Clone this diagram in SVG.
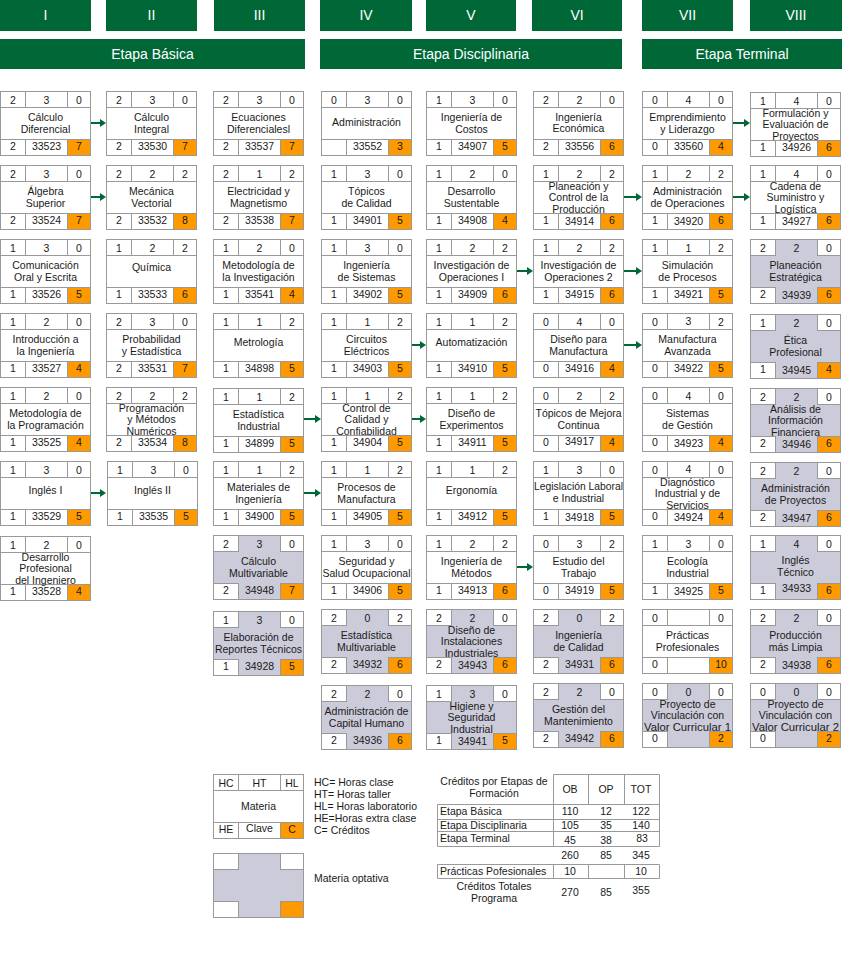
<svg xmlns="http://www.w3.org/2000/svg" xmlns:xlink="http://www.w3.org/1999/xlink" width="842" height="968" viewBox="0 0 842 968">
<style>
text{font-family:"Liberation Sans",Arial,sans-serif;font-size:10.5px;fill:#1a1a1a;text-anchor:middle}
.hd rect{fill:#006837}
.hd text{fill:#fff;font-size:14px}
.st{fill:none;stroke:#999;stroke-width:1}
.l{text-anchor:start}
.ar line{stroke:#006837;stroke-width:2}
</style>
<defs>
<marker id="ah" markerWidth="6" markerHeight="8" refX="0" refY="4" orient="auto" markerUnits="userSpaceOnUse"><path d="M0 0L6 4L0 8Z" fill="#006837"/></marker>
<g id="card"><rect x="0.5" y="0.5" width="90" height="64" fill="#fff" stroke="#999"/><path d="M0.5 16.5H90.5M0.5 48.5H90.5M25.5 0.5V16.5M67.5 0.5V16.5M25.5 48.5V64.5M67.5 48.5V64.5" class="st"/><rect x="67.5" y="48.5" width="23" height="16" fill="#f90" stroke="#999"/></g>
<g id="opt"><rect x="0.5" y="0.5" width="90" height="64" fill="#cccbd9" stroke="#999"/><rect x="0.5" y="0.5" width="25" height="16" fill="#fff" stroke="#999"/><rect x="67.5" y="0.5" width="23" height="16" fill="#fff" stroke="#999"/><rect x="0.5" y="48.5" width="25" height="16" fill="#fff" stroke="#999"/><rect x="67.5" y="48.5" width="23" height="16" fill="#f90" stroke="#999"/></g>
</defs>

<g id="header" class="hd">
<rect x="0" y="0" width="91" height="31"/><text x="45.5" y="20">I</text>
<rect x="106" y="0" width="91" height="31"/><text x="151.5" y="20">II</text>
<rect x="214" y="0" width="91" height="31"/><text x="259.5" y="20">III</text>
<rect x="320" y="0" width="92" height="31"/><text x="366" y="20">IV</text>
<rect x="426" y="0" width="90" height="31"/><text x="471" y="20">V</text>
<rect x="532" y="0" width="90" height="31"/><text x="577" y="20">VI</text>
<rect x="642" y="0" width="91" height="31"/><text x="687.5" y="20">VII</text>
<rect x="750" y="0" width="92" height="31"/><text x="796" y="20">VIII</text>
<rect x="0" y="39" width="305" height="30"/><text x="152.5" y="59">Etapa Básica</text>
<rect x="320" y="39" width="302" height="30"/><text x="471" y="59">Etapa Disciplinaria</text>
<rect x="642" y="39" width="200" height="30"/><text x="742" y="59">Etapa Terminal</text>
</g>

<g id="connectors" class="ar">
<line x1="91" y1="123" x2="100" y2="123" marker-end="url(#ah)"/>
<line x1="733" y1="123" x2="744" y2="123" marker-end="url(#ah)"/>
<line x1="91" y1="197" x2="100" y2="197" marker-end="url(#ah)"/>
<line x1="624" y1="197" x2="636" y2="197" marker-end="url(#ah)"/>
<line x1="733" y1="197" x2="744" y2="197" marker-end="url(#ah)"/>
<line x1="517" y1="271" x2="527" y2="271" marker-end="url(#ah)"/>
<line x1="624" y1="271" x2="636" y2="271" marker-end="url(#ah)"/>
<line x1="412" y1="345" x2="420" y2="345" marker-end="url(#ah)"/>
<line x1="624" y1="345" x2="636" y2="345" marker-end="url(#ah)"/>
<line x1="304" y1="419" x2="315" y2="419" marker-end="url(#ah)"/>
<line x1="412" y1="419" x2="420" y2="419" marker-end="url(#ah)"/>
<line x1="91" y1="493" x2="100" y2="493" marker-end="url(#ah)"/>
<line x1="304" y1="493" x2="315" y2="493" marker-end="url(#ah)"/>
<line x1="517" y1="567" x2="527" y2="567" marker-end="url(#ah)"/>
</g>

<!-- Column I -->
<g id="n33523" transform="translate(0,91)"><use xlink:href="#card"/><text x="13" y="12.5">2</text><text x="46.5" y="12.5">3</text><text x="79" y="12.5">0</text><text x="45.5" y="29.5">Cálculo</text><text x="45.5" y="41.5">Diferencial</text><text x="13" y="59">2</text><text x="46.5" y="59">33523</text><text x="79" y="59">7</text></g>
<g id="n33524" transform="translate(0,165)"><use xlink:href="#card"/><text x="13" y="12.5">2</text><text x="46.5" y="12.5">3</text><text x="79" y="12.5">0</text><text x="45.5" y="29.5">Álgebra</text><text x="45.5" y="41.5">Superior</text><text x="13" y="59">2</text><text x="46.5" y="59">33524</text><text x="79" y="59">7</text></g>
<g id="n33526" transform="translate(0,239)"><use xlink:href="#card"/><text x="13" y="12.5">1</text><text x="46.5" y="12.5">3</text><text x="79" y="12.5">0</text><text x="45.5" y="29.5">Comunicación</text><text x="45.5" y="41.5">Oral y Escrita</text><text x="13" y="59">1</text><text x="46.5" y="59">33526</text><text x="79" y="59">5</text></g>
<g id="n33527" transform="translate(0,313)"><use xlink:href="#card"/><text x="13" y="12.5">1</text><text x="46.5" y="12.5">2</text><text x="79" y="12.5">0</text><text x="45.5" y="29.5">Introducción a</text><text x="45.5" y="41.5">la Ingeniería</text><text x="13" y="59">1</text><text x="46.5" y="59">33527</text><text x="79" y="59">4</text></g>
<g id="n33525" transform="translate(0,387)"><use xlink:href="#card"/><text x="13" y="12.5">1</text><text x="46.5" y="12.5">2</text><text x="79" y="12.5">0</text><text x="45.5" y="29.5">Metodología de</text><text x="45.5" y="41.5">la Programación</text><text x="13" y="59">1</text><text x="46.5" y="59">33525</text><text x="79" y="59">4</text></g>
<g id="n33529" transform="translate(0,461)"><use xlink:href="#card"/><text x="13" y="12.5">1</text><text x="46.5" y="12.5">3</text><text x="79" y="12.5">0</text><text x="45.5" y="33">Inglés I</text><text x="13" y="59">1</text><text x="46.5" y="59">33529</text><text x="79" y="59">5</text></g>
<g id="n33528" transform="translate(0,536)"><use xlink:href="#card"/><text x="13" y="12.5">1</text><text x="46.5" y="12.5">2</text><text x="79" y="12.5">0</text><text x="45.5" y="24.5">Desarrollo</text><text x="45.5" y="36">Profesional</text><text x="45.5" y="47.5">del Ingeniero</text><text x="13" y="59">1</text><text x="46.5" y="59">33528</text><text x="79" y="59">4</text></g>

<!-- Column II -->
<g id="n33530" transform="translate(106,91)"><use xlink:href="#card"/><text x="13" y="12.5">2</text><text x="46.5" y="12.5">3</text><text x="79" y="12.5">0</text><text x="45.5" y="29.5">Cálculo</text><text x="45.5" y="41.5">Integral</text><text x="13" y="59">2</text><text x="46.5" y="59">33530</text><text x="79" y="59">7</text></g>
<g id="n33532" transform="translate(106,165)"><use xlink:href="#card"/><text x="13" y="12.5">2</text><text x="46.5" y="12.5">2</text><text x="79" y="12.5">2</text><text x="45.5" y="29.5">Mecánica</text><text x="45.5" y="41.5">Vectorial</text><text x="13" y="59">2</text><text x="46.5" y="59">33532</text><text x="79" y="59">8</text></g>
<g id="n33533" transform="translate(106,239)"><use xlink:href="#card"/><text x="13" y="12.5">1</text><text x="46.5" y="12.5">2</text><text x="79" y="12.5">2</text><text x="45.5" y="32">Química</text><text x="13" y="59">1</text><text x="46.5" y="59">33533</text><text x="79" y="59">6</text></g>
<g id="n33531" transform="translate(106,313)"><use xlink:href="#card"/><text x="13" y="12.5">2</text><text x="46.5" y="12.5">3</text><text x="79" y="12.5">0</text><text x="45.5" y="29.5">Probabilidad</text><text x="45.5" y="41.5">y Estadística</text><text x="13" y="59">2</text><text x="46.5" y="59">33531</text><text x="79" y="59">7</text></g>
<g id="n33534" transform="translate(106,387)"><use xlink:href="#card"/><text x="13" y="12.5">2</text><text x="46.5" y="12.5">2</text><text x="79" y="12.5">2</text><text x="45.5" y="24.5">Programación</text><text x="45.5" y="36">y Métodos</text><text x="45.5" y="47.5">Numéricos</text><text x="13" y="59">2</text><text x="46.5" y="59">33534</text><text x="79" y="59">8</text></g>
<g id="n33535" transform="translate(107,461)"><use xlink:href="#card"/><text x="13" y="12.5">1</text><text x="46.5" y="12.5">3</text><text x="79" y="12.5">0</text><text x="45.5" y="33">Inglés II</text><text x="13" y="59">1</text><text x="46.5" y="59">33535</text><text x="79" y="59">5</text></g>

<!-- Column III -->
<g id="n33537" transform="translate(213,91)"><use xlink:href="#card"/><text x="13" y="12.5">2</text><text x="46.5" y="12.5">3</text><text x="79" y="12.5">0</text><text x="45.5" y="29.5">Ecuaciones</text><text x="45.5" y="41.5">Diferencialesl</text><text x="13" y="59">2</text><text x="46.5" y="59">33537</text><text x="79" y="59">7</text></g>
<g id="n33538" transform="translate(213,165)"><use xlink:href="#card"/><text x="13" y="12.5">2</text><text x="46.5" y="12.5">1</text><text x="79" y="12.5">2</text><text x="45.5" y="30">Electricidad y</text><text x="45.5" y="42">Magnetismo</text><text x="13" y="59">2</text><text x="46.5" y="59">33538</text><text x="79" y="59">7</text></g>
<g id="n33541" transform="translate(213,239)"><use xlink:href="#card"/><text x="13" y="12.5">1</text><text x="46.5" y="12.5">2</text><text x="79" y="12.5">0</text><text x="45.5" y="30">Metodología de</text><text x="45.5" y="42">la Investigación</text><text x="13" y="59">1</text><text x="46.5" y="59">33541</text><text x="79" y="59">4</text></g>
<g id="n34898" transform="translate(213,313)"><use xlink:href="#card"/><text x="13" y="12.5">1</text><text x="46.5" y="12.5">1</text><text x="79" y="12.5">2</text><text x="45.5" y="33">Metrología</text><text x="13" y="59">1</text><text x="46.5" y="59">34898</text><text x="79" y="59">5</text></g>
<g id="n34899" transform="translate(213,388)"><use xlink:href="#card"/><text x="13" y="12.5">1</text><text x="46.5" y="12.5">1</text><text x="79" y="12.5">2</text><text x="45.5" y="29.5">Estadística</text><text x="45.5" y="41.5">Industrial</text><text x="13" y="59">1</text><text x="46.5" y="59">34899</text><text x="79" y="59">5</text></g>
<g id="n34900" transform="translate(213,461)"><use xlink:href="#card"/><text x="13" y="12.5">1</text><text x="46.5" y="12.5">1</text><text x="79" y="12.5">2</text><text x="45.5" y="29.5">Materiales de</text><text x="45.5" y="41.5">Ingeniería</text><text x="13" y="59">1</text><text x="46.5" y="59">34900</text><text x="79" y="59">5</text></g>
<g id="n34948" transform="translate(213,535)"><use xlink:href="#opt"/><text x="13" y="12.5">2</text><text x="46.5" y="12.5">3</text><text x="79" y="12.5">0</text><text x="45.5" y="29.5">Cálculo</text><text x="45.5" y="41.5">Multivariable</text><text x="13" y="59">2</text><text x="46.5" y="59">34948</text><text x="79" y="59">7</text></g>
<g id="n34928" transform="translate(213,611)"><use xlink:href="#opt"/><text x="13" y="12.5">1</text><text x="46.5" y="12.5">3</text><text x="79" y="12.5">0</text><text x="45.5" y="29.5">Elaboración de</text><text x="45.5" y="41.5" textLength="87" lengthAdjust="spacingAndGlyphs">Reportes Técnicos</text><text x="13" y="59">1</text><text x="46.5" y="59">34928</text><text x="79" y="59">5</text></g>

<!-- Column IV -->
<g id="n33552" transform="translate(321,91)"><use xlink:href="#card"/><text x="46.5" y="12.5">3</text><text x="13" y="12.5">0</text><text x="79" y="12.5">0</text><text x="45.5" y="35">Administración</text><text x="46.5" y="59">33552</text><text x="79" y="59">3</text></g>
<g id="n34901" transform="translate(321,165)"><use xlink:href="#card"/><text x="13" y="12.5">1</text><text x="46.5" y="12.5">3</text><text x="79" y="12.5">0</text><text x="45.5" y="29.5">Tópicos</text><text x="45.5" y="41.5">de Calidad</text><text x="13" y="59">1</text><text x="46.5" y="59">34901</text><text x="79" y="59">5</text></g>
<g id="n34902" transform="translate(321,239)"><use xlink:href="#card"/><text x="13" y="12.5">1</text><text x="46.5" y="12.5">3</text><text x="79" y="12.5">0</text><text x="45.5" y="29.5">Ingeniería</text><text x="45.5" y="41.5">de Sistemas</text><text x="13" y="59">1</text><text x="46.5" y="59">34902</text><text x="79" y="59">5</text></g>
<g id="n34903" transform="translate(321,313)"><use xlink:href="#card"/><text x="13" y="12.5">1</text><text x="46.5" y="12.5">1</text><text x="79" y="12.5">2</text><text x="45.5" y="29.5">Circuitos</text><text x="45.5" y="41.5">Eléctricos</text><text x="13" y="59">1</text><text x="46.5" y="59">34903</text><text x="79" y="59">5</text></g>
<g id="n34904" transform="translate(321,387)"><use xlink:href="#card"/><text x="13" y="12.5">1</text><text x="46.5" y="12.5">1</text><text x="79" y="12.5">2</text><text x="45.5" y="24.5">Control de</text><text x="45.5" y="36">Calidad y</text><text x="45.5" y="47.5">Confiabilidad</text><text x="13" y="59">1</text><text x="46.5" y="59">34904</text><text x="79" y="59">5</text></g>
<g id="n34905" transform="translate(321,461)"><use xlink:href="#card"/><text x="13" y="12.5">1</text><text x="46.5" y="12.5">1</text><text x="79" y="12.5">2</text><text x="45.5" y="29.5">Procesos de</text><text x="45.5" y="41.5">Manufactura</text><text x="13" y="59">1</text><text x="46.5" y="59">34905</text><text x="79" y="59">5</text></g>
<g id="n34906" transform="translate(321,535)"><use xlink:href="#card"/><text x="13" y="12.5">1</text><text x="46.5" y="12.5">3</text><text x="79" y="12.5">0</text><text x="45.5" y="29.5">Seguridad y</text><text x="45.5" y="41.5" textLength="88" lengthAdjust="spacingAndGlyphs">Salud Ocupacional</text><text x="13" y="59">1</text><text x="46.5" y="59">34906</text><text x="79" y="59">5</text></g>
<g id="n34932" transform="translate(321,609)"><use xlink:href="#opt"/><text x="13" y="12.5">2</text><text x="46.5" y="12.5">0</text><text x="79" y="12.5">2</text><text x="45.5" y="29.5">Estadística</text><text x="45.5" y="41.5">Multivariable</text><text x="13" y="59">2</text><text x="46.5" y="59">34932</text><text x="79" y="59">6</text></g>
<g id="n34936" transform="translate(321,685)"><use xlink:href="#opt"/><text x="13" y="12.5">2</text><text x="46.5" y="12.5">2</text><text x="79" y="12.5">0</text><text x="45.5" y="29.5" textLength="84" lengthAdjust="spacingAndGlyphs">Administración de</text><text x="45.5" y="41.5">Capital Humano</text><text x="13" y="59">2</text><text x="46.5" y="59">34936</text><text x="79" y="59">6</text></g>

<!-- Column V -->
<g id="n34907" transform="translate(426,91)"><use xlink:href="#card"/><text x="13" y="12.5">1</text><text x="46.5" y="12.5">3</text><text x="79" y="12.5">0</text><text x="45.5" y="29.5">Ingeniería de</text><text x="45.5" y="41.5">Costos</text><text x="13" y="59">1</text><text x="46.5" y="59">34907</text><text x="79" y="59">5</text></g>
<g id="n34908" transform="translate(426,165)"><use xlink:href="#card"/><text x="13" y="12.5">1</text><text x="46.5" y="12.5">2</text><text x="79" y="12.5">0</text><text x="45.5" y="30">Desarrollo</text><text x="45.5" y="42">Sustentable</text><text x="13" y="59">1</text><text x="46.5" y="59">34908</text><text x="79" y="59">4</text></g>
<g id="n34909" transform="translate(426,239)"><use xlink:href="#card"/><text x="13" y="12.5">1</text><text x="46.5" y="12.5">2</text><text x="79" y="12.5">2</text><text x="45.5" y="29.5">Investigación de</text><text x="45.5" y="41.5">Operaciones I</text><text x="13" y="59">1</text><text x="46.5" y="59">34909</text><text x="79" y="59">6</text></g>
<g id="n34910" transform="translate(426,313)"><use xlink:href="#card"/><text x="13" y="12.5">1</text><text x="46.5" y="12.5">1</text><text x="79" y="12.5">2</text><text x="45.5" y="33">Automatización</text><text x="13" y="59">1</text><text x="46.5" y="59">34910</text><text x="79" y="59">5</text></g>
<g id="n34911" transform="translate(426,387)"><use xlink:href="#card"/><text x="13" y="12.5">1</text><text x="46.5" y="12.5">1</text><text x="79" y="12.5">2</text><text x="45.5" y="29.5">Diseño de</text><text x="45.5" y="41.5">Experimentos</text><text x="13" y="59">1</text><text x="46.5" y="59">34911</text><text x="79" y="59">5</text></g>
<g id="n34912" transform="translate(426,461)"><use xlink:href="#card"/><text x="13" y="12.5">1</text><text x="46.5" y="12.5">1</text><text x="79" y="12.5">2</text><text x="45.5" y="33">Ergonomía</text><text x="13" y="59">1</text><text x="46.5" y="59">34912</text><text x="79" y="59">5</text></g>
<g id="n34913" transform="translate(426,535)"><use xlink:href="#card"/><text x="13" y="12.5">1</text><text x="46.5" y="12.5">2</text><text x="79" y="12.5">2</text><text x="45.5" y="29.5">Ingeniería de</text><text x="45.5" y="41.5">Métodos</text><text x="13" y="59">1</text><text x="46.5" y="59">34913</text><text x="79" y="59">6</text></g>
<g id="n34943" transform="translate(426,609)"><use xlink:href="#opt"/><text x="13" y="12.5">2</text><text x="46.5" y="12.5">2</text><text x="79" y="12.5">0</text><text x="45.5" y="24.5">Diseño de</text><text x="45.5" y="36">Instalaciones</text><text x="45.5" y="47.5">Industriales</text><text x="13" y="59">2</text><text x="46.5" y="59.5">34943</text><text x="79" y="59">6</text></g>
<g id="n34941" transform="translate(426,685)"><use xlink:href="#opt"/><text x="13" y="12.5">1</text><text x="46.5" y="12.5">3</text><text x="79" y="13">0</text><text x="45.5" y="24.5">Higiene y</text><text x="45.5" y="36">Seguridad</text><text x="45.5" y="47.5">Industrial</text><text x="13" y="59">1</text><text x="46.5" y="59.5">34941</text><text x="79" y="59">5</text></g>

<!-- Column VI -->
<g id="n33556" transform="translate(533,91)"><use xlink:href="#card"/><text x="13" y="12.5">2</text><text x="46.5" y="12.5">2</text><text x="79" y="12.5">0</text><text x="45.5" y="29.5">Ingeniería</text><text x="45.5" y="41">Económica</text><text x="13" y="59">2</text><text x="46.5" y="59">33556</text><text x="79" y="59">6</text></g>
<g id="n34914" transform="translate(533,165)"><use xlink:href="#card"/><text x="13" y="12.5">1</text><text x="46.5" y="12.5">2</text><text x="79" y="12.5">2</text><text x="45.5" y="24.5">Planeación y</text><text x="45.5" y="36">Control de la</text><text x="45.5" y="47.5">Producción</text><text x="13" y="59">1</text><text x="46.5" y="60">34914</text><text x="79" y="59">6</text></g>
<g id="n34915" transform="translate(533,239)"><use xlink:href="#card"/><text x="13" y="12.5">1</text><text x="46.5" y="12.5">2</text><text x="79" y="12.5">2</text><text x="45.5" y="29.5">Investigación de</text><text x="45.5" y="41.5">Operaciones 2</text><text x="13" y="59">1</text><text x="46.5" y="59">34915</text><text x="79" y="59">6</text></g>
<g id="n34916" transform="translate(533,313)"><use xlink:href="#card"/><text x="13" y="12.5">0</text><text x="46.5" y="12.5">4</text><text x="79" y="12.5">0</text><text x="45.5" y="29.5">Diseño para</text><text x="45.5" y="41.5">Manufactura</text><text x="13" y="59">0</text><text x="46.5" y="59">34916</text><text x="79" y="59">4</text></g>
<g id="n34917" transform="translate(533,387)"><use xlink:href="#card"/><text x="13" y="12.5">0</text><text x="46.5" y="12.5">2</text><text x="79" y="12.5">2</text><text x="45.5" y="29.5" textLength="86" lengthAdjust="spacingAndGlyphs">Tópicos de Mejora</text><text x="45.5" y="41.5">Continua</text><text x="13" y="59">0</text><text x="46.5" y="58">34917</text><text x="79" y="59">4</text></g>
<g id="n34918" transform="translate(533,461)"><use xlink:href="#card"/><text x="13" y="12.5">1</text><text x="46.5" y="12.5">3</text><text x="79" y="12.5">0</text><text x="45.5" y="29" textLength="89" lengthAdjust="spacingAndGlyphs">Legislación Laboral</text><text x="45.5" y="40.5">e Industrial</text><text x="13" y="59">1</text><text x="46.5" y="60">34918</text><text x="79" y="59">5</text></g>
<g id="n34919" transform="translate(533,535)"><use xlink:href="#card"/><text x="13" y="12.5">0</text><text x="46.5" y="12.5">3</text><text x="79" y="12.5">2</text><text x="45.5" y="29.5">Estudio del</text><text x="45.5" y="41.5">Trabajo</text><text x="13" y="59">0</text><text x="46.5" y="59">34919</text><text x="79" y="59">5</text></g>
<g id="n34931" transform="translate(533,609)"><use xlink:href="#opt"/><text x="13" y="12.5">2</text><text x="46.5" y="12.5">0</text><text x="79" y="12.5">2</text><text x="45.5" y="29.5">Ingeniería</text><text x="45.5" y="41.5">de Calidad</text><text x="13" y="59">2</text><text x="46.5" y="59">34931</text><text x="79" y="59">6</text></g>
<g id="n34942" transform="translate(533,683)"><use xlink:href="#opt"/><text x="13" y="12.5">2</text><text x="46.5" y="12.5">2</text><text x="79" y="12.5">0</text><text x="45.5" y="29.5">Gestión del</text><text x="45.5" y="41.5">Mantenimiento</text><text x="13" y="59">2</text><text x="46.5" y="59">34942</text><text x="79" y="59">6</text></g>

<!-- Column VII -->
<g id="n33560" transform="translate(642,91)"><use xlink:href="#card"/><text x="13" y="12.5">0</text><text x="46.5" y="12.5">4</text><text x="79" y="12.5">0</text><text x="45.5" y="29.5">Emprendimiento</text><text x="45.5" y="41.5">y Liderazgo</text><text x="13" y="58.5">0</text><text x="46.5" y="59">33560</text><text x="79" y="59">4</text></g>
<g id="n34920" transform="translate(642,165)"><use xlink:href="#card"/><text x="13" y="12.5">1</text><text x="46.5" y="12.5">2</text><text x="79" y="12.5">2</text><text x="45.5" y="29.5">Administración</text><text x="45.5" y="41.5">de Operaciones</text><text x="13" y="59">1</text><text x="46.5" y="59.5">34920</text><text x="79" y="59">6</text></g>
<g id="n34921" transform="translate(642,239)"><use xlink:href="#card"/><text x="13" y="12.5">1</text><text x="46.5" y="12.5">1</text><text x="79" y="12.5">2</text><text x="45.5" y="30">Simulación</text><text x="45.5" y="42">de Procesos</text><text x="13" y="59">1</text><text x="46.5" y="59">34921</text><text x="79" y="59">5</text></g>
<g id="n34922" transform="translate(642,313)"><use xlink:href="#card"/><text x="13" y="12.5">0</text><text x="46.5" y="12">3</text><text x="79" y="12.5">2</text><text x="45.5" y="29.5">Manufactura</text><text x="45.5" y="41.5">Avanzada</text><text x="13" y="59">0</text><text x="46.5" y="58.5">34922</text><text x="79" y="59">5</text></g>
<g id="n34923" transform="translate(642,387)"><use xlink:href="#card"/><text x="13" y="12.5">0</text><text x="46.5" y="12.5">4</text><text x="79" y="12.5">0</text><text x="45.5" y="30">Sistemas</text><text x="45.5" y="42">de Gestión</text><text x="13" y="59">0</text><text x="46.5" y="59.5">34923</text><text x="79" y="59">4</text></g>
<g id="n34924" transform="translate(642,461)"><use xlink:href="#card"/><text x="13" y="12.5">0</text><text x="46.5" y="12">4</text><text x="79" y="12.5">0</text><text x="45.5" y="24.5">Diagnóstico</text><text x="45.5" y="36">Industrial y de</text><text x="45.5" y="47.5">Servicios</text><text x="13" y="58.5">0</text><text x="46.5" y="59.5">34924</text><text x="79" y="59">4</text></g>
<g id="n34925" transform="translate(642,535)"><use xlink:href="#card"/><text x="13" y="12.5">1</text><text x="46.5" y="12.5">3</text><text x="79" y="12.5">0</text><text x="45.5" y="30">Ecología</text><text x="45.5" y="42">Industrial</text><text x="13" y="59">1</text><text x="46.5" y="59.5">34925</text><text x="79" y="59">5</text></g>
<g id="n-practicas" transform="translate(642,609)"><use xlink:href="#card"/><text x="13" y="12.5">0</text><text x="79" y="12.5">0</text><text x="45.5" y="30">Prácticas</text><text x="45.5" y="42">Profesionales</text><text x="13" y="59">0</text><text x="79" y="59">10</text></g>
<g id="n-pvvc1" transform="translate(642,683)"><use xlink:href="#opt"/><text x="13" y="12.5">0</text><text x="46.5" y="12.5">0</text><text x="79" y="12.5">0</text><text x="45.5" y="24.5">Proyecto de</text><text x="45.5" y="36">Vinculación con</text><text x="45.5" y="47.5" textLength="87" lengthAdjust="spacingAndGlyphs">Valor Curricular 1</text><text x="13" y="59">0</text><text x="79" y="59">2</text></g>

<!-- Column VIII -->
<g id="n34926" transform="translate(750,92)"><use xlink:href="#card"/><text x="13" y="12.5">1</text><text x="46.5" y="12.5">4</text><text x="79" y="12.5">0</text><text x="45.5" y="24.5">Formulación y</text><text x="45.5" y="36">Evaluación de</text><text x="45.5" y="47.5">Proyectos</text><text x="13" y="59">1</text><text x="46.5" y="59">34926</text><text x="79" y="59">6</text></g>
<g id="n34927" transform="translate(750,165)"><use xlink:href="#card"/><text x="13" y="12.5">1</text><text x="46.5" y="12.5">4</text><text x="79" y="12.5">0</text><text x="45.5" y="24.5">Cadena de</text><text x="45.5" y="36">Suministro y</text><text x="45.5" y="47.5">Logística</text><text x="13" y="59">1</text><text x="46.5" y="59.5">34927</text><text x="79" y="59">6</text></g>
<g id="n34939" transform="translate(750,239)"><use xlink:href="#opt"/><text x="13" y="12.5">2</text><text x="46.5" y="12.5">2</text><text x="79" y="12.5">0</text><text x="45.5" y="30">Planeación</text><text x="45.5" y="42">Estratégica</text><text x="13" y="59">2</text><text x="46.5" y="59.5">34939</text><text x="79" y="59">6</text></g>
<g id="n34945" transform="translate(750,314)"><use xlink:href="#opt"/><text x="13" y="12.5">1</text><text x="46.5" y="12.5">2</text><text x="79" y="12.5">0</text><text x="45.5" y="29.5">Ética</text><text x="45.5" y="41.5">Profesional</text><text x="13" y="59">1</text><text x="46.5" y="59.5">34945</text><text x="79" y="59">4</text></g>
<g id="n34946" transform="translate(750,388)"><use xlink:href="#opt"/><text x="13" y="12.5">2</text><text x="46.5" y="12.5">2</text><text x="79" y="12.5">0</text><text x="45.5" y="24.5">Análisis de</text><text x="45.5" y="36">Información</text><text x="45.5" y="47.5">Financiera</text><text x="13" y="59">2</text><text x="46.5" y="59.5">34946</text><text x="79" y="59">6</text></g>
<g id="n34947" transform="translate(750,462)"><use xlink:href="#opt"/><text x="13" y="12.5">2</text><text x="46.5" y="12.5">2</text><text x="79" y="12.5">0</text><text x="45.5" y="29.5">Administración</text><text x="45.5" y="41.5">de Proyectos</text><text x="13" y="59">2</text><text x="46.5" y="59.5">34947</text><text x="79" y="59">6</text></g>
<g id="n34933" transform="translate(750,535)"><use xlink:href="#opt"/><text x="13" y="12.5">1</text><text x="46.5" y="12.5">4</text><text x="79" y="12.5">0</text><text x="45.5" y="28.5">Inglés</text><text x="45.5" y="40.5">Técnico</text><text x="13" y="59">1</text><text x="46.5" y="57">34933</text><text x="79" y="59">6</text></g>
<g id="n34938" transform="translate(750,609)"><use xlink:href="#opt"/><text x="13" y="12.5">2</text><text x="46.5" y="12.5">2</text><text x="79" y="12.5">0</text><text x="45.5" y="30">Producción</text><text x="45.5" y="42">más Limpia</text><text x="13" y="59">2</text><text x="46.5" y="59.5">34938</text><text x="79" y="59">6</text></g>
<g id="n-pvvc2" transform="translate(750,683)"><use xlink:href="#opt"/><text x="13" y="12.5">0</text><text x="46.5" y="12.5">0</text><text x="79" y="12.5">0</text><text x="45.5" y="24.5">Proyecto de</text><text x="45.5" y="36">Vinculación con</text><text x="45.5" y="47.5" textLength="87" lengthAdjust="spacingAndGlyphs">Valor Curricular 2</text><text x="13" y="59">0</text><text x="79" y="59">2</text></g>

<!-- Legend -->
<g id="legend-card" transform="translate(213,774)"><use xlink:href="#card"/><rect x="0.5" y="0.5" width="90" height="64" fill="none" stroke="#999"/><text x="13" y="12.5">HC</text><text x="46.5" y="12.5">HT</text><text x="79" y="12.5">HL</text><text x="45.5" y="36">Materia</text><text x="13" y="59">HE</text><text x="46.5" y="58">Clave</text><text x="79" y="59">C</text></g>
<g id="legend-opt" transform="translate(213,853)"><use xlink:href="#opt"/></g>
<g id="legend-text">
<text class="l" x="314" y="786">HC= Horas clase</text>
<text class="l" x="314" y="798">HT= Horas taller</text>
<text class="l" x="314" y="810">HL= Horas laboratorio</text>
<text class="l" x="314" y="822">HE=Horas extra clase</text>
<text class="l" x="314" y="834">C= Créditos</text>
<text class="l" x="314" y="882">Materia optativa</text>
</g>

<!-- Credits table -->
<g id="table">
<path class="st" d="M553.5 774.5H659.5V846.5H437.5V804.5H659.5M553.5 774.5V846.5M588.5 774.5V804.5M624.5 774.5V804.5M437.5 819.5H659.5M437.5 831.5H659.5"/>
<path class="st" d="M437.5 864.5H659.5V878.5H437.5ZM553.5 864.5V878.5M588.5 864.5V878.5M624.5 864.5V878.5"/>
<text x="494" y="785">Créditos por Etapas de</text>
<text x="494" y="797">Formación</text>
<text x="570" y="793">OB</text><text x="606" y="793">OP</text><text x="641" y="793">TOT</text>
<text class="l" x="440" y="815">Etapa Básica</text><text x="570" y="815">110</text><text x="606" y="815">12</text><text x="641" y="815">122</text>
<text class="l" x="440" y="829">Etapa Disciplinaria</text><text x="570" y="829">105</text><text x="606" y="829">35</text><text x="641" y="829">140</text>
<text class="l" x="440" y="842">Etapa Terminal</text><text x="570" y="844">45</text><text x="606" y="844">38</text><text x="642" y="842">83</text>
<text x="570" y="859">260</text><text x="606" y="859">85</text><text x="641" y="859">345</text>
<text class="l" x="440" y="875">Prácticas Pofesionales</text><text x="570" y="875">10</text><text x="641" y="875">10</text>
<text x="494" y="890">Créditos Totales</text>
<text x="494" y="902">Programa</text>
<text x="570" y="896">270</text><text x="606" y="896">85</text><text x="641" y="894">355</text>
</g>
</svg>
